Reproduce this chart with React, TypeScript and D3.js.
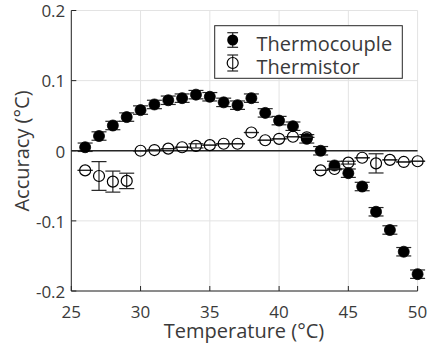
import React from "react";
import * as d3 from "d3";

const temps = [26, 27, 28, 29, 30, 31, 32, 33, 34, 35, 36, 37, 38, 39, 40, 41, 42, 43, 44, 45, 46, 47, 48, 49, 50];
const thermocouple = [0.005, 0.021, 0.036, 0.048, 0.058, 0.066, 0.072, 0.075, 0.080, 0.077, 0.069, 0.065, 0.075, 0.054, 0.043, 0.035, 0.017, 0.0, -0.021, -0.032, -0.051, -0.087, -0.113, -0.144, -0.176];
const thermocoupleErr = [0.006, 0.006, 0.006, 0.006, 0.006, 0.006, 0.006, 0.006, 0.006, 0.006, 0.006, 0.006, 0.006, 0.006, 0.006, 0.006, 0.006, 0.006, 0.006, 0.006, 0.006, 0.006, 0.006, 0.006, 0.006];
const thermistor = [-0.028, -0.036, -0.044, -0.043, 0.0, 0.001, 0.003, 0.005, 0.007, 0.008, 0.010, 0.010, 0.026, 0.015, 0.017, 0.020, 0.019, -0.028, -0.026, -0.017, -0.010, -0.018, -0.013, -0.016, -0.015];
const thermistorErr = [0, 0.0205, 0.015, 0.011, 0, 0, 0, 0, 0.003, 0, 0, 0, 0, 0, 0, 0, 0, 0, 0, 0.002, 0, 0.0137, 0, 0, 0];
const xTicks = [25, 30, 35, 40, 45, 50];
const yTicks = [-0.2, -0.1, 0, 0.1, 0.2];
const seriesNames = ["Thermocouple", "Thermistor"];

const FONT = "'Open Sans', 'Noto Sans', sans-serif";
const INK = "#262626";
const TXT = "#3a3a3a";

export default function App() {
  const W = 427, H = 346;
  const x = d3.scaleLinear().domain([25, 50]).range([71.3, 417.6]);
  const y = d3.scaleLinear().domain([-0.2, 0.2]).range([291, 10.5]);
  const capW = 7.5;
  const r = 5.5;

  const errBar = (cx: number, v: number, e: number, key: string) => {
    const y1 = y(v + e), y0 = y(v - e);
    return (
      <g key={key} stroke={INK} strokeWidth={1.2} fill="none">
        <line x1={cx} x2={cx} y1={y1} y2={y0} />
        <line x1={cx - capW} x2={cx + capW} y1={y1} y2={y1} />
        <line x1={cx - capW} x2={cx + capW} y1={y0} y2={y0} />
      </g>
    );
  };

  const fmt = (v: number) => (v === 0 ? "0" : String(v));

  return (
    <svg width={W} height={H} style={{ position: "absolute", left: 0, top: 0, background: "#fff" }}>
      <rect x={0} y={0} width={W} height={H} fill="#fff" />
      {/* grid */}
      <g stroke="#e3e3e3" strokeWidth={1}>
        {xTicks.map((t) => (
          <line key={"gx" + t} x1={x(t)} x2={x(t)} y1={y(0.2)} y2={y(-0.2)} />
        ))}
        {yTicks.map((t) => (
          <line key={"gy" + t} x1={x(25)} x2={x(50)} y1={y(t)} y2={y(t)} />
        ))}
      </g>
      {/* zero line */}
      <line x1={x(25)} x2={x(50)} y1={y(0)} y2={y(0)} stroke={INK} strokeWidth={1.5} />
      {/* axes */}
      <g stroke={INK} strokeWidth={1} fill="none">
        <line x1={x(25)} x2={x(25)} y1={y(0.2)} y2={y(-0.2)} />
        <line x1={x(25)} x2={x(50)} y1={y(-0.2)} y2={y(-0.2)} />
        {xTicks.map((t) => (
          <line key={"tx" + t} x1={x(t)} x2={x(t)} y1={y(-0.2)} y2={y(-0.2) - 5} />
        ))}
        {yTicks.map((t) => (
          <line key={"ty" + t} x1={x(25)} x2={x(25) + 5} y1={y(t)} y2={y(t)} />
        ))}
      </g>
      {/* tick labels */}
      <g fontFamily={FONT} fontSize={17} fill={TXT}>
        {xTicks.map((t) => (
          <text key={"lx" + t} x={x(t)} y={y(-0.2) + 27} textAnchor="middle">{t}</text>
        ))}
        {yTicks.map((t) => (
          <text key={"ly" + t} x={x(25) - 6} y={y(t)} dy="0.4em" textAnchor="end">{fmt(t)}</text>
        ))}
      </g>
      {/* axis labels */}
      <text x={244} y={338} textAnchor="middle" fontFamily={FONT} fontSize={20} fill={TXT}>Temperature (°C)</text>
      <text transform={`translate(29,151) rotate(-90)`} textAnchor="middle" fontFamily={FONT} fontSize={20} fill={TXT}>Accuracy (°C)</text>

      {/* thermocouple */}
      {temps.map((t, i) => errBar(x(t), thermocouple[i], thermocoupleErr[i], "ec" + i))}
      {temps.map((t, i) => (
        <circle key={"c" + i} cx={x(t)} cy={y(thermocouple[i])} r={r} fill="#000" stroke="#000" strokeWidth={0.8} />
      ))}
      {/* thermistor */}
      {temps.map((t, i) => errBar(x(t), thermistor[i], thermistorErr[i], "es" + i))}
      {temps.map((t, i) => (
        <circle key={"s" + i} cx={x(t)} cy={y(thermistor[i])} r={r} fill="none" stroke="#000" strokeWidth={1.2} />
      ))}

      {/* legend */}
      <rect x={214.7} y={25.7} width={187.6} height={52.6} fill="#fff" stroke={INK} strokeWidth={1} />
      <g stroke={INK} strokeWidth={1.2} fill="none">
        <line x1={232.7} x2={232.7} y1={32.7} y2={47.3} />
        <line x1={227.3} x2={238.1} y1={32.7} y2={32.7} />
        <line x1={227.3} x2={238.1} y1={47.3} y2={47.3} />
        <line x1={232.7} x2={232.7} y1={55} y2={71} />
        <line x1={227.3} x2={238.1} y1={55} y2={55} />
        <line x1={227.3} x2={238.1} y1={71} y2={71} />
      </g>
      <circle cx={232.7} cy={40} r={r} fill="#000" />
      <circle cx={232.7} cy={63} r={r} fill="none" stroke="#000" strokeWidth={1.2} />
      <g fontFamily={FONT} fontSize={20} fill={TXT}>
        <text x={256.5} y={51}>{seriesNames[0]}</text>
        <text x={256.5} y={73.5}>{seriesNames[1]}</text>
      </g>
    </svg>
  );
}
